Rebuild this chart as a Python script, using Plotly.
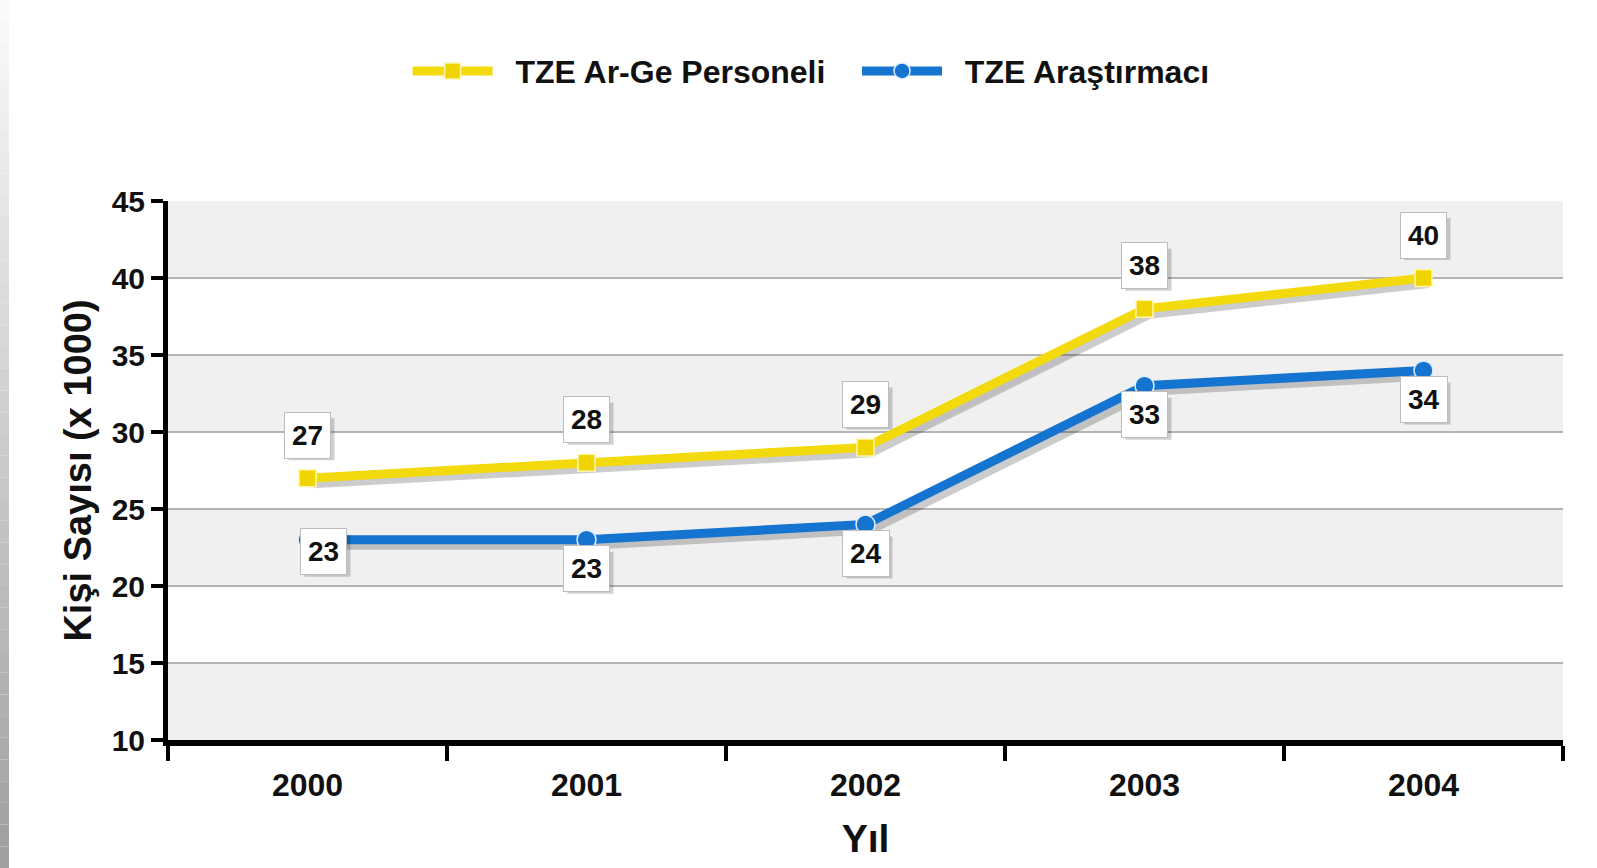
import plotly.graph_objects as go

# veriler
years = ["2000", "2001", "2002", "2003", "2004"]
arge_personeli = [27, 28, 29, 38, 40]
arastirmaci = [23, 23, 24, 33, 34]
y_ticks = [10, 15, 20, 25, 30, 35, 40, 45]

YELLOW = "#F2DA0C"
BLUE = "#1574D0"
FONT = "Liberation Sans, Arial, sans-serif"
NB = "\u00a0"

W, H = 1597, 868
ML, MR, MT, MB = 168, 34, 201, 128
PW = W - ML - MR
PH = H - MT - MB

xs_idx = list(range(len(years)))
fig = go.Figure()

# gölgeler (biraz kaydırılmış eksende)
sx = 5 / (PW / len(years))
sy = 5 / (PH / (y_ticks[-1] - y_ticks[0]))
for vals in (arge_personeli, arastirmaci):
    fig.add_trace(go.Scatter(x=xs_idx, y=vals, mode="lines",
                             line=dict(color="rgba(0,0,0,0.2)", width=10),
                             xaxis="x2", yaxis="y2", showlegend=False, hoverinfo="skip"))

fig.add_trace(go.Scatter(x=xs_idx, y=arge_personeli, mode="lines+markers",
                         name=NB * 2 + "<b>TZE Ar-Ge Personeli</b>" + NB * 3,
                         line=dict(color=YELLOW, width=9),
                         marker=dict(symbol="square", size=17, color="#F0D400",
                                     line=dict(color="#FFF6B0", width=1.5)),
                         xaxis="x3", yaxis="y3"))
fig.add_trace(go.Scatter(x=xs_idx, y=arastirmaci, mode="lines+markers",
                         name=NB * 2 + "<b>TZE Araştırmacı</b>",
                         line=dict(color=BLUE, width=9),
                         marker=dict(symbol="circle", size=19, color=BLUE,
                                     line=dict(color="#DDEEFF", width=1.5)),
                         xaxis="x3", yaxis="y3"))

# arka plan bantları
shapes = []
for k in range(0, len(y_ticks) - 1, 2):
    shapes.append(dict(type="rect", xref="paper", yref="y", x0=0, x1=1,
                       y0=y_ticks[k], y1=y_ticks[k + 1], fillcolor="#F0F0F0",
                       line=dict(width=0), layer="below"))
# sol kenardaki gri şerit
n = 40
for k in range(n):
    c = int(250 - 90 * k / (n - 1))
    shapes.append(dict(type="rect", xref="paper", yref="paper",
                       x0=-ML / PW, x1=(9 - ML) / PW,
                       y0=(H - MB - k * H / n) / PH, y1=(H - MB - (k + 1) * H / n) / PH,
                       fillcolor="rgb(%d,%d,%d)" % (c, c, c), line=dict(width=0), layer="below"))

# değer etiketleri (kutu gölgesi şekil olarak)
anns = []
BW, BH = 23, 21
def label(i, v, xs, ys):
    shapes.append(dict(type="rect", xref="x3", yref="y3", xsizemode="pixel", ysizemode="pixel",
                       xanchor=i, yanchor=v,
                       x0=xs - BW + 4, x1=xs + BW + 4, y0=ys - BH - 4, y1=ys + BH - 4,
                       fillcolor="rgba(0,0,0,0.18)", line=dict(width=0), layer="above"))
    anns.append(dict(x=i, y=v, xref="x3", yref="y3", showarrow=False,
                     text="<b>%d</b>" % v, font=dict(family=FONT, size=28, color="#111"),
                     borderpad=7, borderwidth=1, xshift=xs, yshift=ys,
                     bgcolor="white", bordercolor="#BDBDBD"))

for i, v in enumerate(arge_personeli):
    label(i, v, 0, 43)
for i, v in enumerate(arastirmaci):
    label(i, v, 16 if i == 0 else 0, -12 if i == 0 else -29)

xr = [-0.5, len(years) - 0.5]
yr = [y_ticks[0], y_ticks[-1]]

fig.update_layout(
    width=W, height=H,
    margin=dict(l=ML, r=MR, t=MT, b=MB),
    paper_bgcolor="white", plot_bgcolor="white",
    font=dict(family=FONT, color="#111"),
    shapes=shapes, annotations=anns,
    showlegend=True,
    legend=dict(orientation="h", x=0.461, y=1.241, xanchor="center", yanchor="middle",
                font=dict(family=FONT, size=32, color="#111"), itemwidth=80,
                bgcolor="rgba(0,0,0,0)", traceorder="normal"),
    xaxis=dict(range=xr, tickmode="array", tickvals=xs_idx,
               ticktext=["<b>%s</b>" % y for y in years], showgrid=False,
               showline=True, linecolor="black", linewidth=6,
               ticks="", ticklabelstandoff=12,
               tickfont=dict(family=FONT, size=32, color="#111"),
               minor=dict(tickvals=[i - 0.5 for i in range(len(years) + 1)],
                          ticks="outside", ticklen=15, tickwidth=4, tickcolor="black",
                          showgrid=False),
               title=dict(text="<b>Yıl</b>", font=dict(family=FONT, size=39, color="#111"), standoff=24),
               zeroline=False, automargin=False),
    yaxis=dict(range=yr, tickvals=y_ticks, ticktext=["<b>%d</b>" % t for t in y_ticks],
               showgrid=True, gridcolor="#B4B4B4", gridwidth=1.5,
               showline=True, linecolor="black", linewidth=5,
               ticks="outside", ticklen=12, tickwidth=4, tickcolor="black",
               tickfont=dict(family=FONT, size=30, color="#111"),
               title=dict(text="<b>Kişi Sayısı (x 1000)</b>", font=dict(family=FONT, size=38, color="#111"), standoff=10),
               zeroline=False, automargin=False),
    xaxis2=dict(range=[xr[0] - sx, xr[1] - sx], overlaying="x", visible=False),
    yaxis2=dict(range=[yr[0] + sy, yr[1] + sy], overlaying="y", visible=False),
    xaxis3=dict(range=xr, overlaying="x", visible=False),
    yaxis3=dict(range=yr, overlaying="y", visible=False),
)

fig.write_html("out.html", config={"displayModeBar": False},
               post_script="document.body.style.margin='0';")
